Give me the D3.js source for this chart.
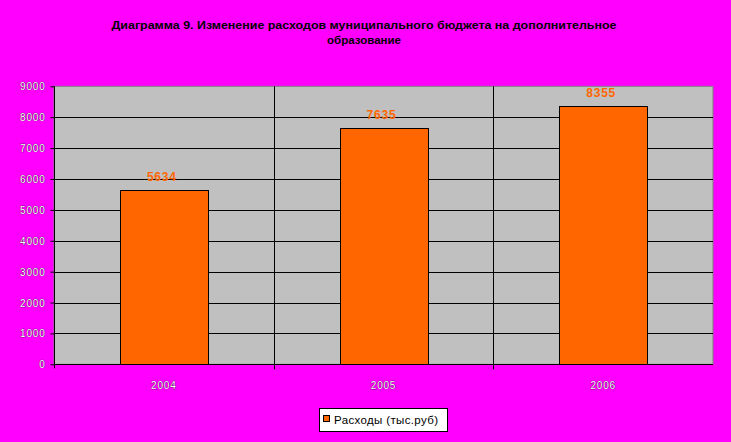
<!DOCTYPE html>
<html><head><meta charset="utf-8">
<script src="https://cdn.jsdelivr.net/npm/d3@7"></script>
<style>body{margin:0;background:#ff00ff;}svg{display:block;}</style>
</head><body>
<script>
const categories = ["2004", "2005", "2006"];
const values = [5634, 7635, 8355];
const yTicks = [0, 1000, 2000, 3000, 4000, 5000, 6000, 7000, 8000, 9000];
const titleLines = ["Диаграмма 9. Изменение расходов муниципального бюджета на дополнительное", "образование"];
const seriesName = "Расходы (тыс.руб)";

const W = 731, H = 442;
const svg = d3.select("body").append("svg").attr("width", W).attr("height", H);
svg.append("rect").attr("width", W).attr("height", H).attr("fill", "#ff00ff");

const L = 54, R = 713, T = 86.3, B = 364.3;
const x = d3.scaleBand().domain(categories).range([L, R]).paddingInner(0).paddingOuter(0);
const y = d3.scaleLinear().domain([0, 9000]).range([B, T]);

// plot background
svg.append("rect").attr("x", L).attr("y", T).attr("width", R - L).attr("height", B - T)
  .attr("fill", "#c0c0c0").attr("stroke", "#808080").attr("stroke-width", 1);

// horizontal gridlines
svg.append("g").selectAll("line").data(yTicks.filter(d => d > 0 && d < 9000)).join("line")
  .attr("x1", L).attr("x2", R).attr("y1", d => Math.round(y(d)) + 0.5).attr("y2", d => Math.round(y(d)) + 0.5)
  .attr("stroke", "#000").attr("stroke-width", 1);

// vertical category separators
svg.append("g").selectAll("line").data(categories.slice(1)).join("line")
  .attr("x1", d => Math.round(x(d)) + 0.5).attr("x2", d => Math.round(x(d)) + 0.5)
  .attr("y1", T).attr("y2", B + 5)
  .attr("stroke", "#000").attr("stroke-width", 1);

// bars
const bw = x.bandwidth() * 0.4;
svg.append("g").selectAll("rect").data(values).join("rect")
  .attr("x", (d, i) => Math.round(x(categories[i]) + x.bandwidth() / 2 - bw / 2) + 0.5)
  .attr("y", d => Math.round(y(d)) + 0.5)
  .attr("width", Math.round(bw))
  .attr("height", d => Math.round(B) - Math.round(y(d)))
  .attr("fill", "#ff6600").attr("stroke", "#000").attr("stroke-width", 1);

// value labels
svg.append("g").selectAll("text").data(values).join("text")
  .attr("x", (d, i) => x(categories[i]) + x.bandwidth() / 2 - 2)
  .attr("y", d => y(d) - 9.5)
  .attr("text-anchor", "middle")
  .attr("font-family", "Arial, 'Liberation Sans', sans-serif")
  .attr("font-weight", "bold").attr("font-size", 12).attr("letter-spacing", 0.8)
  .attr("fill", "#ff6600")
  .text(d => d);

// axes
const yAxis = d3.axisLeft(y).tickValues(yTicks).tickSize(4).tickFormat(d => d);
const gy = svg.append("g").attr("transform", `translate(${L + 0.5},0)`).call(yAxis);
gy.select(".domain").attr("d", `M0,${T}V${B + 4}`).attr("stroke", "#000");
gy.selectAll(".tick line").attr("stroke", "#000");
gy.selectAll(".tick text").attr("x", -9).attr("dy", "0.35em")
  .attr("font-family", "Arial, 'Liberation Sans', sans-serif").attr("font-size", 10)
  .attr("letter-spacing", 0.8)
  .attr("fill", "#fff").attr("stroke", "#000").attr("stroke-width", 0.5)
  .attr("paint-order", "stroke");

svg.append("line").attr("x1", L).attr("x2", R).attr("y1", Math.round(B) + 0.5).attr("y2", Math.round(B) + 0.5)
  .attr("stroke", "#000").attr("stroke-width", 1);

svg.append("g").selectAll("text").data(categories).join("text")
  .attr("x", d => x(d) + x.bandwidth() / 2)
  .attr("y", 389)
  .attr("text-anchor", "middle")
  .attr("font-family", "Arial, 'Liberation Sans', sans-serif").attr("font-size", 10)
  .attr("letter-spacing", 0.8)
  .attr("fill", "#fff").attr("stroke", "#000").attr("stroke-width", 0.5)
  .attr("paint-order", "stroke")
  .text(d => d);

// title
svg.append("g").selectAll("text").data(titleLines).join("text")
  .attr("x", 364).attr("y", (d, i) => 29 + i * 15)
  .attr("text-anchor", "middle")
  .attr("font-family", "Arial, 'Liberation Sans', sans-serif")
  .attr("font-weight", "bold").attr("font-size", 11.5)
  .attr("fill", "#000")
  .attr("textLength", (d, i) => i === 0 ? 505 : 74)
  .attr("lengthAdjust", "spacingAndGlyphs")
  .text(d => d);

// legend
const lg = svg.append("g");
lg.append("rect").attr("x", 319.5).attr("y", 408.5).attr("width", 128).attr("height", 23)
  .attr("fill", "#fff").attr("stroke", "#000").attr("stroke-width", 1);
lg.append("rect").attr("x", 323.5).attr("y", 415.5).attr("width", 6).attr("height", 6)
  .attr("fill", "#ff6600").attr("stroke", "#000").attr("stroke-width", 1);
lg.append("text").attr("x", 334).attr("y", 423.5)
  .attr("font-family", "Arial, 'Liberation Sans', sans-serif").attr("font-size", 11.5)
  .attr("fill", "#000").attr("textLength", 104).attr("lengthAdjust", "spacing")
  .text(seriesName);
</script>
</body></html>
